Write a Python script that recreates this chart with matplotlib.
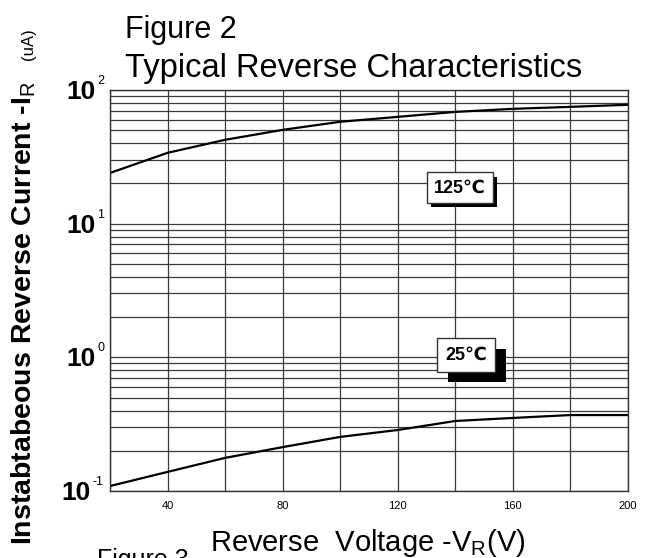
import matplotlib
matplotlib.use("Agg")
import matplotlib.pyplot as plt
import matplotlib.patheffects as pe
import numpy as np

plt.rcParams['font.family'] = ['Liberation Sans', 'DejaVu Sans']
plt.rcParams['mathtext.fontset'] = 'custom'
plt.rcParams['mathtext.rm'] = 'Liberation Sans'
plt.rcParams['mathtext.it'] = 'Liberation Sans'

# Data
voltage = [20, 40, 60, 80, 100, 120, 140, 160, 180, 200]
i_125c = [23.9, 33.8, 42.3, 50.2, 57.7, 62.8, 68.4, 72.1, 74.6, 77.3]
i_25c = [0.109, 0.139, 0.177, 0.213, 0.254, 0.286, 0.334, 0.352, 0.37, 0.37]
x_ticks = [40, 80, 120, 160, 200]
y_ticks = [0.1, 1, 10, 100]
y_exponents = ['-1', '0', '1', '2']

fig = plt.figure(figsize=(6.49, 5.58), dpi=100)
ax = fig.add_axes([0.1695, 0.120, 0.798, 0.719])

ax.plot(voltage, i_125c, color='black', lw=1.6)
ax.plot(voltage, i_25c, color='black', lw=1.6)

ax.set_yscale('log')
ax.set_xlim(20, 200)
ax.set_ylim(0.1, 100)

ax.set_xticks(np.arange(20, 201, 20), minor=True)
ax.set_xticks(x_ticks)
ax.set_xticklabels([str(v) for v in x_ticks], fontsize=8)
ax.set_yticks(y_ticks)
ax.set_yticklabels([])
ax.tick_params(which='both', length=0, pad=7)
ax.grid(True, which='both', color='#3a3a3a', lw=0.9)
for s in ax.spines.values():
    s.set_color('#333333')
    s.set_linewidth(1.0)

# y tick labels: bold "10" with a small exponent
for val, ex in zip(y_ticks, y_exponents):
    shift = -19 if len(ex) > 1 else -14
    ax.annotate('10', xy=(0, val), xycoords=('axes fraction', 'data'),
                xytext=(shift, -2), textcoords='offset pixels',
                ha='right', va='center', fontsize=19, fontweight='bold')
    ax.annotate(ex, xy=(0, val), xycoords=('axes fraction', 'data'),
                xytext=(shift + 1, 3), textcoords='offset pixels',
                ha='left', va='bottom', fontsize=9)

# temperature labels with drop shadows
def tag(x, y, txt, off, pad):
    t = ax.text(x, y, txt, ha='center', va='center', fontsize=13, fontweight='bold',
                zorder=5, bbox=dict(boxstyle=f'square,pad={pad}', fc='white', ec='#333333', lw=1))
    t.get_bbox_patch().set_path_effects([
        pe.SimplePatchShadow(offset=(off, -off), shadow_rgbFace='black', alpha=1.0),
        pe.Normal()])

tag(141.6, 18.5, '125℃', 3, 0.38)
tag(143.8, 1.04, '25℃', 7.5, 0.45)

fig.text(0.193, 0.932, 'Figure 2', fontsize=22, va='baseline')
fig.text(0.193, 0.862, 'Typical Reverse Characteristics', fontsize=23.5, va='baseline')
fig.text(0.037, 0.023, r'Instabtabeous Reverse Current -I$_{\mathrm{R}}$', rotation=90,
         fontsize=20.5, fontweight='bold', ha='center', va='bottom')
fig.text(0.044, 0.892, '(uA)', rotation=90, fontsize=12, ha='center', va='bottom')
fig.text(0.324, 0.013, r'Reverse  Voltage -V$_{\mathrm{R}}$(V)', fontsize=21, va='baseline')
fig.text(0.150, 0.018, 'Figure 3', fontsize=18, va='top')

fig.savefig('out.png', dpi=100)
